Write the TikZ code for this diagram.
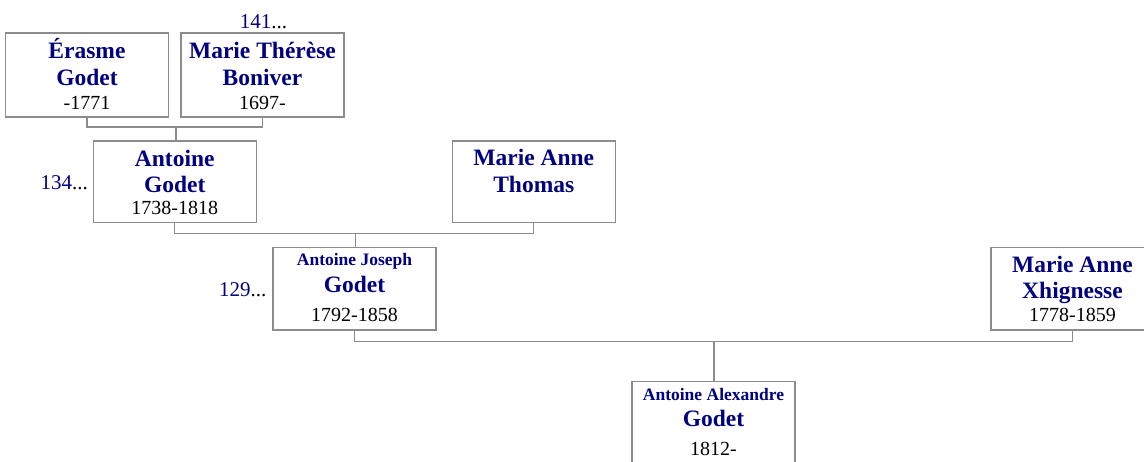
\documentclass[tikz,border=0pt]{standalone}
\usepackage{fontspec}
\setmainfont{Liberation Serif}
\definecolor{nm}{RGB}{0,0,128}
\definecolor{bd}{RGB}{140,140,140}
\tikzset{
  x=1pt,y=1pt,
  pbox/.style={draw=bd,line width=1.3pt,fill=white,rectangle,inner sep=0pt,minimum width=163pt},
  row1/.style={minimum height=84pt},
  row2/.style={minimum height=81.5pt},
  row3/.style={minimum height=82.5pt},
  conn/.style={draw=bd,line width=1.3pt},
  bigname/.style={anchor=base,inner sep=0pt,text=nm,font=\fontsize{23.5}{24}\selectfont\bfseries},
  smallname/.style={anchor=base,inner sep=0pt,text=nm,font=\fontsize{17.5}{18}\selectfont\bfseries},
  dates/.style={anchor=base,inner sep=0pt,text=black,font=\fontsize{20}{20}\selectfont},
  numtxt/.style={inner sep=0pt,text=nm,font=\fontsize{21}{21}\selectfont}
}
\begin{document}
\begin{tikzpicture}
\useasboundingbox (0,0) rectangle (1144,-461);
\clip (0,0) rectangle (1144,-461);
\fill[white] (0,0) rectangle (1144,-461);
% boxes
\node[pbox,row1] (E)  at (87,-75) {};
\node[pbox,row1] (MT) at (262.5,-75) {};
\node[pbox,row2] (A)  at (174.75,-181.75) {};
\node[pbox,row2] (T)  at (533.75,-181.75) {};
\node[pbox,row3] (J)  at (354.5,-288.75) {};
\node[pbox,row3] (X)  at (1072.5,-288.75) {};
\node[pbox,minimum height=90pt,anchor=north] (AA) at (713.5,-380.5) {};
% connectors
\coordinate (j1) at (176,-127);
\coordinate (j2) at (355.5,-233.5);
\coordinate (j3) at (714,-341.5);
\draw[conn] (E.south) |- (j1) -| (MT.south);
\draw[conn] (j1) -- (j1 |- A.north);
\draw[conn] (A.south) |- (j2) -| (T.south);
\draw[conn] (j2) -- (j2 |- J.north);
\draw[conn] (J.south) |- (j3) -| (X.south);
\draw[conn] (j3) -- (j3 |- AA.north);
% texts
\node[bigname] (e1) at (87,-58) {Érasme};
\node[bigname] (e2) at (87,-85) {Godet};
\node[dates]   (e3) at (87,-109) {-1771};
\node[bigname] (m1) at (262.5,-58) {Marie Thérèse};
\node[bigname] (m2) at (262.5,-85) {Boniver};
\node[dates]   (m3) at (262.5,-109) {1697-};
\node[numtxt,anchor=base] (n141) at (263.4,-28.5) {141\textcolor{black}{...}};
\node[bigname] (a1) at (174.75,-166) {Antoine};
\node[bigname] (a2) at (174.75,-192) {Godet};
\node[dates]   (a3) at (174.75,-214) {1738-1818};
\node[numtxt,anchor=base east] (n134) at (88,-189.5) {134\textcolor{black}{...}};
\node[bigname] (t1) at (533.75,-165) {Marie Anne};
\node[bigname] (t2) at (533.75,-192) {Thomas};
\node[smallname] (j1t) at (354.5,-265.7) {Antoine Joseph};
\node[bigname] (j2t) at (354.5,-292.7) {Godet};
\node[dates]   (j3t) at (354.5,-321.7) {1792-1858};
\node[numtxt,anchor=base east] (n129) at (266.5,-296) {129\textcolor{black}{...}};
\node[bigname] (x1) at (1072.5,-272.7) {Marie Anne};
\node[bigname] (x2) at (1072.5,-298) {Xhignesse};
\node[dates]   (x3) at (1072.5,-321.7) {1778-1859};
\node[smallname] (aa1) at (713.5,-400) {Antoine Alexandre};
\node[bigname] (aa2) at (713.5,-426) {Godet};
\node[dates]   (aa3) at (713.5,-455) {1812-};
\end{tikzpicture}
\end{document}
